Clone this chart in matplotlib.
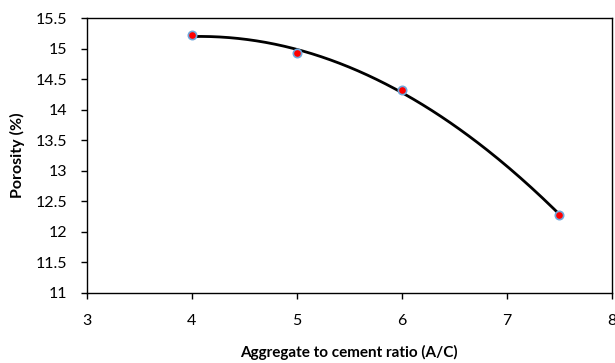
import matplotlib.pyplot as plt
import numpy as np

plt.rcParams['font.family'] = ['Lato', 'DejaVu Sans']

# ----------------------------------------------------------------------
# Data
# ----------------------------------------------------------------------
ac_ratio = [4, 5, 6, 7.5]
porosity = [15.22, 14.93, 14.33, 12.28]

x_ticks = [3, 4, 5, 6, 7, 8]
y_ticks = [11, 11.5, 12, 12.5, 13, 13.5, 14, 14.5, 15, 15.5]

# polynomial trendline (order 2), as in the spreadsheet chart
coef = np.polyfit(ac_ratio, porosity, 2)
xs = np.linspace(min(ac_ratio), max(ac_ratio), 200)
ys = np.polyval(coef, xs)

fig = plt.figure(figsize=(6.15, 3.63), dpi=100)
ax = fig.add_axes([0.1415, 0.193, 0.853, 0.757])

ax.plot(xs, ys, color='black', linewidth=2, zorder=2)
ax.plot(ac_ratio, porosity, linestyle='', marker='o', markersize=6,
        markerfacecolor='red', markeredgecolor='#6fa8dc', markeredgewidth=1.2, zorder=3)

ax.set_xlim(3, 8)
ax.set_ylim(11, 15.5)
ax.set_xticks(x_ticks)
ax.set_yticks(y_ticks)
ax.set_yticklabels([f"{v:g}" for v in y_ticks])
ax.tick_params(direction='out', length=4, width=1, labelsize=11.5, color='black')
ax.tick_params(axis='x', pad=11)
ax.tick_params(axis='y', pad=10)

for s in ax.spines.values():
    s.set_color('black')
    s.set_linewidth(1)

ax.set_xlabel("Aggregate to cement ratio (A/C)", fontsize=11, fontweight='bold', labelpad=12)
ax.set_ylabel("Porosity (%)", fontsize=11.5, fontweight='bold', labelpad=8)

fig.savefig("out.png", dpi=100)
